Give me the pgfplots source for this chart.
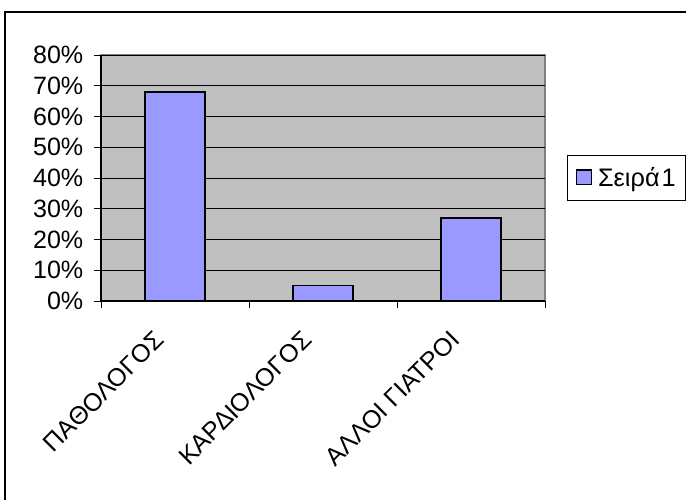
\documentclass[border=0pt]{standalone}
\usepackage{fontspec}
\setmainfont{Liberation Sans}
\usepackage{pgfplots}
\pgfplotsset{compat=1.18}
\definecolor{barcol}{HTML}{9999FF}
\definecolor{plotgray}{HTML}{C0C0C0}
\definecolor{edgegray}{HTML}{808080}
\newcommand{\lbl}{\fontsize{18.8}{22}\selectfont}
\newcommand{\leglbl}{\fontsize{19}{23}\selectfont}
\begin{document}
\begin{tikzpicture}
% page frame (1px = 0.75pt)
\useasboundingbox (0,0) rectangle (514.5pt,375pt);
\draw[black, line width=0.8pt] (3.75pt,0) -- (3.75pt,366pt) -- (514.5pt,366pt);
\begin{axis}[
  at={(75.75pt,149.25pt)}, anchor=south west,
  scale only axis, width=333pt, height=184.5pt,
  xmin=-0.5, xmax=2.5, ymin=0, ymax=80,
  axis x line*=bottom, axis y line*=left,
  axis line style={black, line width=0.8pt},
  axis background/.style={fill=plotgray, draw=edgegray, line width=0.8pt},
  ymajorgrids, major grid style={black, line width=0.6pt},
  tick align=outside,
  major tick length=5.25pt, minor tick length=5.25pt,
  ytick={0,10,...,80},
  yticklabels={0\%,10\%,20\%,30\%,40\%,50\%,60\%,70\%,80\%},
  ytick style={black, line width=0.6pt},
  yticklabel style={font=\lbl, xshift=-4.5pt},
  xtick={0,1,2},
  xticklabels={ΠΑΘΟΛΟΓΟΣ,ΚΑΡΔΙΟΛΟΓΟΣ,ΑΛΛΟΙ ΓΙΑΤΡΟΙ},
  minor xtick={-0.5,0.5,1.5,2.5},
  major x tick style={draw=none},
  minor x tick style={black, line width=0.6pt},
  xticklabel style={font=\lbl, rotate=45, anchor=north east, inner sep=1pt, yshift=1.5pt, xshift=-22pt},
  legend style={at={(1.0495,0.5)}, anchor=west, draw=black, line width=0.6pt,
    font=\leglbl, inner xsep=5pt, inner ysep=7pt},
  legend image code/.code={
    \path[draw=none, fill=none] (0pt,0pt) -- (16pt,0pt);
    \draw[fill=barcol, draw=black, line width=0.8pt] (2pt,-5pt) rectangle (13pt,6pt);},
  legend cell align=left,
]
\addplot[ybar, bar width=45pt, fill=barcol, draw=black, line width=1pt]
  coordinates {(0,68) (1,5) (2,27)};
\addlegendentry{Σειρά\kern1.5pt 1}
\end{axis}
\end{tikzpicture}
\end{document}
